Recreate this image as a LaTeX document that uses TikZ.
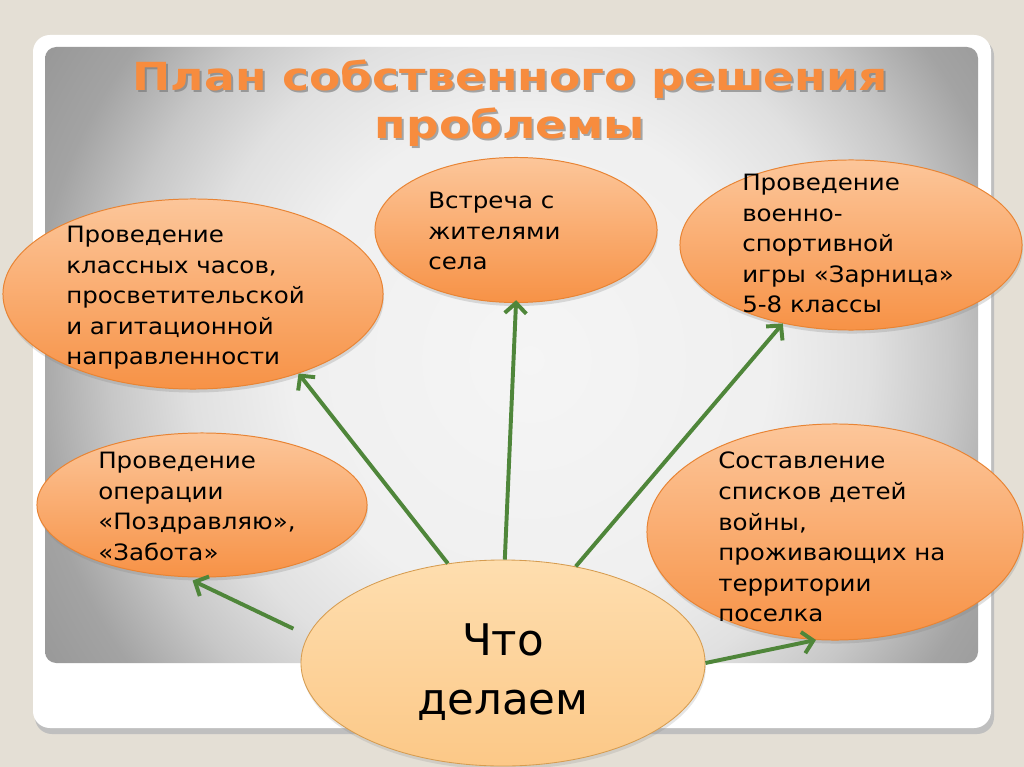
\documentclass[tikz,border=0pt]{standalone}
\usepackage{fontspec}
\setmainfont{DejaVu Sans}
\newfontfamily\widefont[FakeStretch=1.09]{DejaVu Sans}
\newfontfamily\headfont[FakeStretch=1.18]{DejaVu Sans}
\usepackage{xcolor}
\usetikzlibrary{shapes.geometric, arrows.meta, positioning, shadows}
\definecolor{slidebg}{RGB}{228,223,213}
\definecolor{titleorange}{RGB}{247,140,62}
\definecolor{ovaltop}{RGB}{252,198,154}
\definecolor{ovalbot}{RGB}{247,146,70}
\definecolor{ovalline}{RGB}{232,132,52}
\definecolor{coretop}{RGB}{254,222,175}
\definecolor{corebot}{RGB}{252,200,135}
\definecolor{coreline}{RGB}{214,156,80}
\definecolor{arrowgreen}{RGB}{79,134,58}
\pgfdeclareradialshading{panelshade}{\pgfpoint{0bp}{0bp}}{color(0bp)=(black!4); color(12bp)=(black!6); color(17bp)=(black!12); color(21bp)=(black!22); color(25bp)=(black!36); color(30bp)=(black!42); color(50bp)=(black!44)}
\tikzset{
	oval/.style={ellipse, draw=ovalline, line width=0.7pt, top color=ovaltop, bottom color=ovalbot, inner sep=0pt, drop shadow={opacity=0.25, shadow xshift=0.6pt, shadow yshift=-2.5pt}},
	core/.style={ellipse, draw=coreline, line width=0.6pt, top color=coretop, bottom color=corebot, inner sep=0pt, drop shadow={opacity=0.2, shadow xshift=0.6pt, shadow yshift=-2.5pt}},
	txt/.style={anchor=north west, inner sep=0pt, align=left, font=\widefont\fontsize{16}{21.7}\selectfont},
	head/.style={anchor=north, inner sep=0pt, align=center, font=\headfont\fontsize{27.5}{34}\selectfont\bfseries},
	line/.style={draw=arrowgreen, line width=2.8pt, -{Straight Barb[length=2.6mm, width=5.4mm]}}
}

\begin{document}
\begin{tikzpicture}[x=0.025cm, y=-0.025cm]
	% slide background
	\fill[slidebg] (0,0) rectangle (1024,767);
	\fill[black!25, rounded corners=12] (35,39) rectangle (994,734);
	\fill[white, rounded corners=12] (33,35) rectangle (991,728);
	\begin{scope}
		\clip[rounded corners=8] (45,47) rectangle (978,663);
		\shade[shading=panelshade] (30,-150) rectangle (1030,870);
	\end{scope}

	% title
	\node[head, text=black!55, opacity=0.6] (title-shadow) at (512,62) {План собственного решения\\проблемы};
	\node[head, text=titleorange] (title) at (510,60) {План собственного решения\\проблемы};

	% ovals
	\node[oval, minimum width=9.5cm, minimum height=4.75cm] (cls) at (193,294) {};
	\node[oval, minimum width=7.05cm, minimum height=3.625cm] (vstr) at (516,230) {};
	\node[oval, minimum width=8.55cm, minimum height=4.25cm] (zarn) at (851,245) {};
	\node[oval, minimum width=8.25cm, minimum height=3.6cm] (oper) at (202,505) {};
	\node[oval, minimum width=9.4cm, minimum height=5.4cm] (sost) at (835,532) {};
	\node[core, minimum width=10.1cm, minimum height=5.15cm] (what) at (503,663) {};

	% arrows
	\draw[line] (what.119) -- (cls.-37);
	\draw[line, shorten >=-2] (what.89) -- (vstr.south);
	\draw[line] (what.53) -- (zarn.-131);
	\draw[line, shorten <=0.4cm, shorten >=0.2cm] (what.172) -- (oper.-103);
	\draw[line] (what.east) -- (sost.-100);

	% texts
	\node[txt] (cls-txt) at (66,226) {Проведение\\классных часов,\\просветительской\\и агитационной\\направленности};
	\node[txt] (vstr-txt) at (428,192) {Встреча с\\жителями\\села};
	\node[txt] (zarn-txt) at (742,174) {Проведение\\военно-\\спортивной\\игры «Зарница»\\5-8 классы};
	\node[txt] (oper-txt) at (98,452) {Проведение\\операции\\«Поздравляю»,\\«Забота»};
	\node[txt] (sost-txt) at (718,452) {Составление\\списков детей\\войны,\\проживающих на\\территории\\поселка};
	\node[anchor=north, inner sep=0pt, align=center, font=\fontsize{31}{42}\selectfont] (what-txt) at (503,623) {Что\\делаем};
\end{tikzpicture}
\end{document}
